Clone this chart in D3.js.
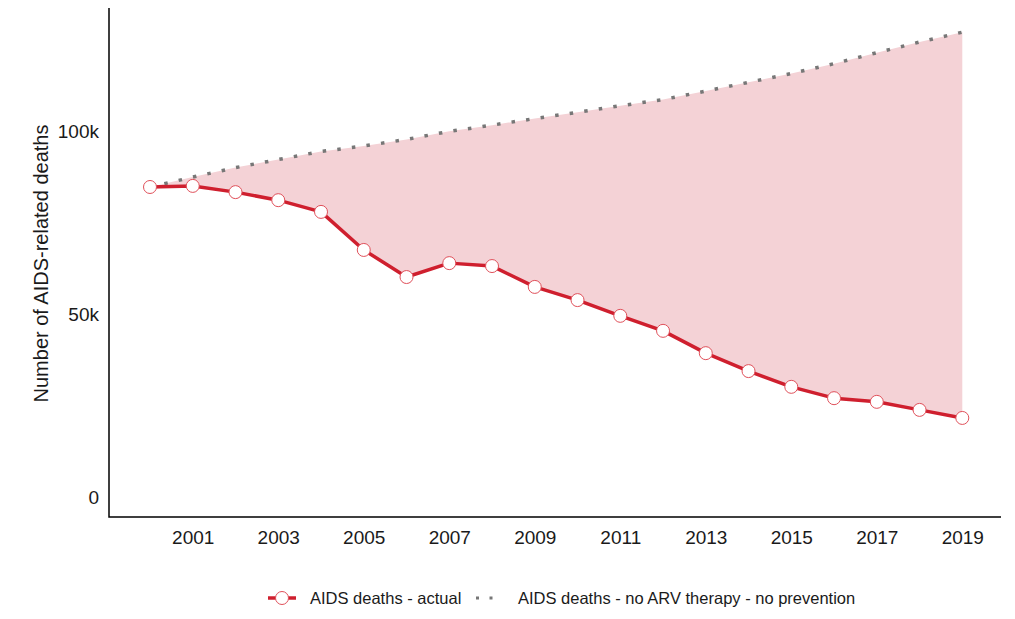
<!DOCTYPE html>
<html lang="en">
<head>
    <meta charset="UTF-8">
    <title>AIDS-related deaths</title>
    <script src="https://d3js.org/d3.v7.min.js"></script>
    <style>
        body {
            margin: 0;
            background: #fff;
        }
        svg {
            display: block;
            font-family: "Liberation Sans", Arial, sans-serif;
        }
        .tick text {
            font-size: 19px;
            fill: #1a1a1a;
        }
        .legend text {
            font-size: 16.5px;
            fill: #1a1a1a;
        }
    </style>
</head>
<body>
    <svg></svg>
    <script>
        // values (deaths per year)
        const years = [2000, 2001, 2002, 2003, 2004, 2005, 2006, 2007, 2008, 2009,
                       2010, 2011, 2012, 2013, 2014, 2015, 2016, 2017, 2018, 2019];
        const actual = [84700, 85000, 83300, 81100, 77900, 67500, 60100, 63900, 63100, 57400,
                        53800, 49500, 45400, 39300, 34400, 30100, 27000, 26000, 23800, 21600];
        const noArv = [84700, 87400, 90000, 92200, 94400, 95900, 97700, 99900, 101600, 103400,
                       105100, 106900, 108600, 110900, 113300, 115700, 118400, 121400, 124300, 127000];
        const yTicks = [0, 50000, 100000];
        const xTicks = [2001, 2003, 2005, 2007, 2009, 2011, 2013, 2015, 2017, 2019];
        const legendLabels = ["AIDS deaths - actual", "AIDS deaths - no ARV therapy - no prevention"];

        const width = 1015, height = 619;
        const red = "#cf1f2e", pink = "#f4d2d6", grey = "#777777";

        const svg = d3.select("svg")
            .attr("width", width)
            .attr("height", height);

        const panel = { left: 109, right: 1001, top: 8, bottom: 517 };

        const x = d3.scaleLinear()
            .domain([2000, 2019])
            .range([150, 962.3]);

        const y = d3.scaleLinear()
            .domain([0, 100000])
            .range([497, 131]);

        const data = years.map((yr, i) => ({ year: yr, actual: actual[i], noArv: noArv[i] }));

        // shaded gap between the two series
        svg.append("path")
            .attr("d", d3.area()
                .x(d => x(d.year))
                .y0(d => y(d.actual))
                .y1(d => y(d.noArv))(data))
            .attr("fill", pink);

        // counterfactual, dotted
        svg.append("path")
            .attr("d", d3.line().x(d => x(d.year)).y(d => y(d.noArv))(data))
            .attr("fill", "none")
            .attr("stroke", grey)
            .attr("stroke-width", 3.5)
            .attr("stroke-dasharray", "3.5 11.2");

        // actual deaths
        svg.append("path")
            .attr("d", d3.line().x(d => x(d.year)).y(d => y(d.actual))(data))
            .attr("fill", "none")
            .attr("stroke", red)
            .attr("stroke-width", 3.5)
            .attr("stroke-linejoin", "round");

        svg.append("g")
            .selectAll("circle")
            .data(data)
            .enter()
            .append("circle")
            .attr("cx", d => x(d.year))
            .attr("cy", d => y(d.actual))
            .attr("r", 6.5)
            .attr("fill", "#fff")
            .attr("stroke", "#e0505a")
            .attr("stroke-width", 1);

        // axes
        const yAxis = svg.append("g")
            .attr("transform", `translate(${panel.left - 10}, 0)`)
            .call(d3.axisLeft(y).tickValues(yTicks).tickSize(0).tickPadding(0)
                .tickFormat(d => d === 0 ? "0" : d3.format("~s")(d)));
        yAxis.select(".domain").remove();

        const xAxis = svg.append("g")
            .attr("transform", `translate(0, ${panel.bottom + 13})`)
            .call(d3.axisBottom(x).tickValues(xTicks).tickSize(0).tickPadding(0)
                .tickFormat(d3.format("d")));
        xAxis.select(".domain").remove();

        svg.append("path")
            .attr("d", `M${panel.left},${panel.top}V${panel.bottom}H${panel.right}`)
            .attr("fill", "none")
            .attr("stroke", "#000")
            .attr("stroke-width", 1.5);

        svg.append("text")
            .attr("transform", `translate(48, 263.5) rotate(-90)`)
            .attr("text-anchor", "middle")
            .attr("font-size", 20)
            .attr("fill", "#1a1a1a")
            .text("Number of AIDS-related deaths");

        // legend
        const legend = svg.append("g").attr("class", "legend");
        const ly = 598;

        legend.append("line")
            .attr("x1", 268).attr("x2", 296)
            .attr("y1", ly).attr("y2", ly)
            .attr("stroke", red)
            .attr("stroke-width", 3.5);
        legend.append("circle")
            .attr("cx", 282).attr("cy", ly)
            .attr("r", 6.5)
            .attr("fill", "#fff")
            .attr("stroke", "#e0505a")
            .attr("stroke-width", 1);
        legend.append("text")
            .attr("x", 310).attr("y", ly)
            .attr("dy", "0.35em")
            .text(legendLabels[0]);

        legend.append("line")
            .attr("x1", 476).attr("x2", 496)
            .attr("y1", ly).attr("y2", ly)
            .attr("stroke", grey)
            .attr("stroke-width", 3)
            .attr("stroke-dasharray", "3 10.5");
        legend.append("text")
            .attr("x", 518).attr("y", ly)
            .attr("dy", "0.35em")
            .text(legendLabels[1]);
    </script>
</body>
</html>
